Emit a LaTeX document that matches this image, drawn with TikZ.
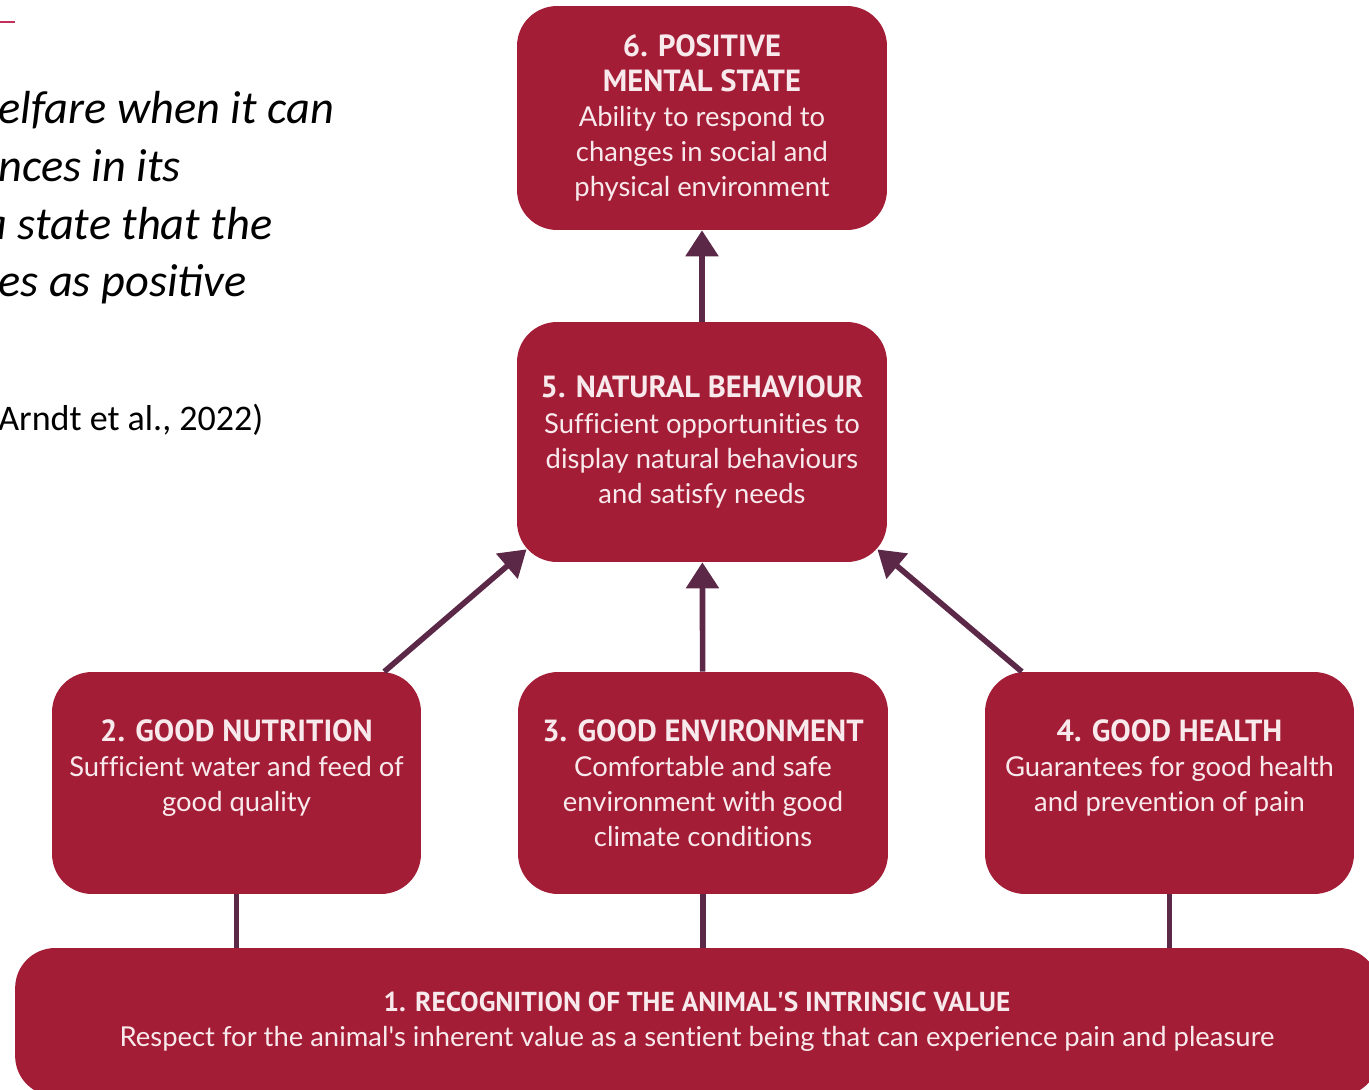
\documentclass[tikz,border=0pt]{standalone}
\usepackage{fontspec}
\setmainfont{Lato}[Ligatures=NoCommon]
\newfontfamily\headfont{PT Sans}
\newfontfamily\notefont{Carlito}
\usetikzlibrary{arrows.meta,positioning}

\definecolor{panelred}{HTML}{A41D36}
\definecolor{paneltxt}{HTML}{F8E9EC}
\definecolor{linkpurple}{HTML}{5C2848}
\definecolor{accentred}{HTML}{C2315E}

\newcommand{\ttl}[2][17.4]{{\headfont\bfseries\fontsize{#1}{20}\selectfont #2}}

\tikzset{
    panel/.style={draw=none,fill=panelred,text=paneltxt,rounded corners=0.8cm,
        align=center,font=\fontsize{15.6}{20}\selectfont,inner sep=0pt},
    link/.style={draw=linkpurple,line width=3.2pt},
    uplink/.style={link,-{Triangle[width=0.64cm,length=0.52cm]}},
    quote/.style={anchor=base west,inner sep=0pt,font=\notefont\itshape\fontsize{26.4}{33}\selectfont}
}

\begin{document}
\begin{tikzpicture}[x=0.02cm,y=-0.02cm]
    \useasboundingbox (0,0) rectangle (1369,1089);

    % text on the left, cut by the edge
    \draw[accentred,line width=0.6pt] (0,22) -- (15,22);
    \node[quote] (q1) at (-2,123) {elfare when it can};
    \node[quote] (q2) at (-2,181) {nces in its};
    \node[quote] (q3) at (-17,239) {a state that the};
    \node[quote] (q4) at (-2,296) {es as positive};
    \node[anchor=base west,inner sep=0pt,font=\notefont\fontsize{20.5}{24}\selectfont]
        (cite) at (-2,430) {Arndt et al., 2022)};

    % the six panels
    \node[panel,minimum width=7.4cm,minimum height=4.48cm] (mental) at (702,118)
        {\ttl{6. POSITIVE}\\\ttl{MENTAL STATE}\\Ability to respond to\\changes in social and\\physical environment};
    \node[panel,minimum width=7.4cm,minimum height=4.8cm] (behav) at (702,442)
        {\ttl{5. NATURAL BEHAVIOUR}\\Sufficient opportunities to\\display natural behaviours\\and satisfy needs};
    \node[panel,minimum width=7.38cm,minimum height=4.44cm] (nutr) at (236.5,783)
        {\ttl{2. GOOD NUTRITION}\\Sufficient water and feed of\\good quality\\\mbox{}};
    \node[panel,minimum width=7.4cm,minimum height=4.44cm] (envir) at (703,783)
        {\ttl{3. GOOD ENVIRONMENT}\\Comfortable and safe\\environment with good\\climate conditions};
    \node[panel,minimum width=7.38cm,minimum height=4.44cm] (health) at (1169.5,783)
        {\ttl{4. GOOD HEALTH}\\Guarantees for good health\\and prevention of pain\\\mbox{}};
    \node[panel,minimum width=27.28cm,minimum height=2.96cm] (intrin) at (697,1022)
        {\ttl[15.6]{1. RECOGNITION OF THE ANIMAL\textquotesingle S INTRINSIC VALUE}\\Respect for the animal\textquotesingle s inherent value as a sentient being that can experience pain and pleasure};

    % connectors
    \draw[uplink] (behav) -- (mental);
    \draw[uplink] (envir) -- (behav);
    \draw[uplink,shorten >=-0.26cm] (nutr.37.4) -- (behav.212);
    \draw[uplink,shorten >=-0.26cm] (health.143) -- (behav.-32);
    \draw[link] (nutr.south) -- (nutr.south |- intrin.north);
    \draw[link] (envir.south) -- (envir.south |- intrin.north);
    \draw[link] (health.south) -- (health.south |- intrin.north);
\end{tikzpicture}
\end{document}
